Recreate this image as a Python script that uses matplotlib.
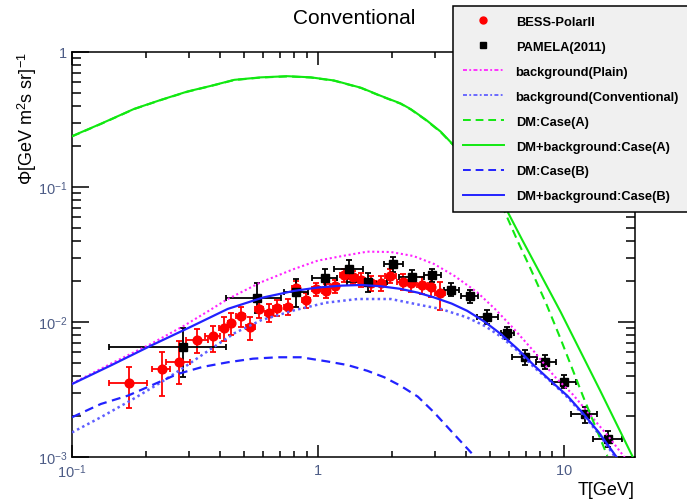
import matplotlib
matplotlib.use("Agg")
import matplotlib.pyplot as plt
from matplotlib.lines import Line2D
from matplotlib.ticker import FixedLocator, FixedFormatter, LogLocator, NullFormatter
import numpy as np

plt.rcParams["font.family"] = ["Liberation Sans", "DejaVu Sans"]
plt.rcParams["mathtext.fontset"] = "custom"
plt.rcParams["mathtext.rm"] = "Liberation Sans"
plt.rcParams["mathtext.it"] = "Liberation Serif:italic"
plt.rcParams["mathtext.bf"] = "Liberation Sans:bold"

# ---------------- BESS-PolarII antiproton flux ----------------
bess_T = [0.171, 0.232, 0.272, 0.322, 0.373, 0.414, 0.442, 0.485, 0.532, 0.577,
          0.632, 0.683, 0.755, 0.814, 0.894, 0.98, 1.08, 1.17, 1.28, 1.39,
          1.50, 1.64, 1.80, 1.97, 2.21, 2.39, 2.66, 2.88, 3.14]
bess_T_lo = [0.141, 0.211, 0.241, 0.291, 0.347, 0.398, 0.430, 0.465, 0.512, 0.556,
             0.608, 0.657, 0.726, 0.785, 0.860, 0.945, 1.04, 1.12, 1.23, 1.33,
             1.44, 1.56, 1.72, 1.88, 2.10, 2.30, 2.53, 2.78, 3.00]
bess_T_hi = [0.202, 0.251, 0.303, 0.356, 0.401, 0.431, 0.456, 0.505, 0.553, 0.600,
             0.657, 0.710, 0.785, 0.845, 0.930, 1.02, 1.12, 1.22, 1.33, 1.45,
             1.56, 1.72, 1.89, 2.07, 2.33, 2.49, 2.80, 2.99, 3.30]
bess_flux = [0.00351, 0.00446, 0.00503, 0.00736, 0.00788, 0.00905, 0.00978, 0.0111, 0.00918, 0.0125,
             0.0117, 0.0128, 0.0129, 0.0180, 0.0146, 0.0176, 0.0170, 0.0185, 0.0222, 0.0215,
             0.0205, 0.0194, 0.0194, 0.0219, 0.0199, 0.0194, 0.0188, 0.0183, 0.0163]
bess_flux_lo = [0.00229, 0.00283, 0.00345, 0.00593, 0.00603, 0.00723, 0.0080, 0.0092, 0.00736, 0.0107,
                0.0100, 0.0111, 0.0112, 0.0160, 0.0128, 0.0157, 0.0150, 0.0165, 0.0199, 0.0192,
                0.0182, 0.0171, 0.0170, 0.0193, 0.0173, 0.0167, 0.0160, 0.0154, 0.0123]
bess_flux_hi = [0.00462, 0.00603, 0.00727, 0.00883, 0.00934, 0.0109, 0.0116, 0.0130, 0.0109, 0.0143,
                0.0135, 0.0146, 0.0147, 0.0200, 0.0165, 0.0196, 0.0190, 0.0206, 0.0246, 0.0240,
                0.0229, 0.0218, 0.0219, 0.0246, 0.0226, 0.0222, 0.0217, 0.0213, 0.0199]

# ---------------- PAMELA (2011) antiproton flux ----------------
pam_T = [0.282, 0.563, 0.814, 1.07, 1.34, 1.60, 2.03, 2.42, 2.90, 3.47,
         4.17, 4.89, 5.87, 6.95, 8.36, 10.0, 12.2, 15.1]
pam_T_lo = [0.141, 0.423, 0.725, 0.95, 1.165, 1.32, 1.86, 2.14, 2.70, 3.26,
            3.81, 4.43, 5.54, 6.18, 7.70, 8.98, 10.7, 13.1]
pam_T_hi = [0.423, 0.707, 0.908, 1.20, 1.52, 1.92, 2.21, 2.70, 3.16, 3.75,
            4.49, 5.41, 6.27, 7.82, 9.28, 11.2, 13.7, 17.3]
pam_flux = [0.00656, 0.0150, 0.0168, 0.0211, 0.0245, 0.0199, 0.0269, 0.0216, 0.0223, 0.0173,
            0.0156, 0.0108, 0.00833, 0.00547, 0.00509, 0.00361, 0.00208, 0.00135]
pam_flux_lo = [0.00394, 0.0116, 0.0130, 0.0163, 0.0211, 0.0168, 0.0236, 0.0194, 0.0199, 0.0156,
               0.0138, 0.0097, 0.00744, 0.00480, 0.00446, 0.00323, 0.00180, 0.00118]
pam_flux_hi = [0.0091, 0.0194, 0.0207, 0.0247, 0.0288, 0.0229, 0.0302, 0.0243, 0.0249, 0.0194,
               0.0174, 0.0123, 0.0092, 0.0062, 0.0057, 0.00405, 0.00236, 0.00157]

# ---------------- model curves ----------------
bg_plain_T = [0.1, 0.15, 0.209, 0.286, 0.36, 0.430, 0.587, 0.80, 1.0, 1.28, 1.59, 1.98,
              2.45, 2.97, 3.6, 4.45, 5.3, 6.28, 7.6, 9.12, 10.9, 12.9, 15.2, 17.8]
bg_plain = [0.0035, 0.0051, 0.00687, 0.0094, 0.0121, 0.0148, 0.0197, 0.0247, 0.0285, 0.0310, 0.0332, 0.0330,
            0.0308, 0.0269, 0.0219, 0.0166, 0.0123, 0.00887, 0.0060, 0.0040, 0.0029, 0.00202, 0.00142, 0.00098]

bg_conv_T = [0.1, 0.131, 0.175, 0.23, 0.29, 0.367, 0.46, 0.587, 0.80, 1.08, 1.45, 1.98, 2.70,
             3.16, 4.05, 4.8, 5.55, 6.5, 7.59, 8.9, 10.35, 12.0, 13.9, 16.3]
bg_conv = [0.00152, 0.00197, 0.00265, 0.00357, 0.0047, 0.00631, 0.0083, 0.0103, 0.0122, 0.0139, 0.0148, 0.0148, 0.0132,
           0.0125, 0.0108, 0.0093, 0.0078, 0.0061, 0.0046, 0.0036, 0.00277, 0.00205, 0.00148, 0.00098]

dmA_T = [0.1, 0.131, 0.179, 0.230, 0.295, 0.367, 0.457, 0.587, 0.753, 0.937, 1.165, 1.50, 1.80,
         2.17, 2.39, 2.75, 3.16, 4.19, 5.76, 6.44, 7.34, 8.5, 9.72, 12.0, 15.05]
dmA = [0.237, 0.293, 0.378, 0.441, 0.508, 0.560, 0.620, 0.647, 0.660, 0.647, 0.613, 0.541, 0.472,
       0.414, 0.375, 0.313, 0.255, 0.150, 0.0653, 0.0412, 0.0247, 0.0136, 0.00748, 0.0028, 0.00102]

totA_T = [0.1, 0.131, 0.179, 0.230, 0.295, 0.367, 0.457, 0.587, 0.753, 0.937, 1.165, 1.50, 1.80,
          2.17, 2.39, 2.75, 3.16, 4.19, 5.92, 6.75, 9.72, 14.1, 19.1]
totA = [0.238, 0.294, 0.379, 0.442, 0.510, 0.561, 0.622, 0.649, 0.662, 0.649, 0.615, 0.543, 0.474,
        0.416, 0.377, 0.315, 0.257, 0.150, 0.0653, 0.0412, 0.01186, 0.00308, 0.00100]

dmB_T = [0.1, 0.131, 0.169, 0.215, 0.269, 0.340, 0.430, 0.545, 0.686, 0.853, 1.095, 1.32, 1.59, 1.86, 2.17,
         2.55, 2.97, 3.55, 4.32]
dmB = [0.00197, 0.00247, 0.00285, 0.00345, 0.00412, 0.00465, 0.00503, 0.00535, 0.00548, 0.00548, 0.0051, 0.0048, 0.00435, 0.0039, 0.00337,
       0.0028, 0.00214, 0.0015, 0.00102]

totB_T = [0.1, 0.145, 0.209, 0.30, 0.430, 0.60, 0.80, 1.0, 1.25, 1.50, 1.80, 2.17, 2.55, 2.97, 3.5, 4.05, 4.75, 5.55,
          6.5, 7.59, 8.8, 10.35, 12.0, 13.9, 16.4]
totB = [0.00347, 0.0048, 0.00667, 0.0091, 0.0125, 0.0152, 0.0170, 0.0180, 0.0186, 0.0188, 0.0184, 0.0176, 0.0165, 0.0152, 0.0137, 0.0121, 0.0101, 0.00815,
        0.0063, 0.00475, 0.0037, 0.00284, 0.0021, 0.00152, 0.00100]

# ---------------- styles ----------------
C_RED = "#ff0000"
C_MAG = "#ff22ff"
C_BGC = "#5f5fff"
C_GRN = "#11e811"
C_BLU = "#2222ff"
LS_DOT = (0, (1.0, 1.3))
LS_DOTDASH = (0, (2.2, 1.3, 1.0, 1.3))
LS_DASH = (0, (4.0, 2.5))

fig = plt.figure(figsize=(6.87, 5.02), dpi=100)
ax = fig.add_axes([72 / 687, 1 - 458 / 502, (635 - 72) / 687, (458 - 53) / 502])
ax.set_xscale("log")
ax.set_yscale("log")
ax.set_xlim(0.1, 19.5)
ax.set_ylim(1e-3, 1)


def asym(center, lo, hi):
    c = np.asarray(center)
    return [c - np.asarray(lo), np.asarray(hi) - c]


ax.errorbar(bess_T, bess_flux, xerr=asym(bess_T, bess_T_lo, bess_T_hi),
            yerr=asym(bess_flux, bess_flux_lo, bess_flux_hi),
            fmt="o", color=C_RED, ms=6.3, elinewidth=1.3, capsize=2.3, capthick=1.3, zorder=3)
ax.errorbar(pam_T, pam_flux, xerr=asym(pam_T, pam_T_lo, pam_T_hi),
            yerr=asym(pam_flux, pam_flux_lo, pam_flux_hi),
            fmt="s", color="black", ms=6.3, elinewidth=1.3, capsize=2.3, capthick=1.3, zorder=3)

ax.plot(bg_plain_T, bg_plain, color=C_MAG, ls=LS_DOT, lw=1.5, zorder=4)
ax.plot(bg_conv_T, bg_conv, color=C_BGC, ls=LS_DOT, lw=1.8, zorder=4)
ax.plot(dmA_T, dmA, color=C_GRN, ls=LS_DASH, lw=1.5, zorder=4)
ax.plot(totA_T, totA, color=C_GRN, ls="-", lw=1.5, zorder=4)
ax.plot(dmB_T, dmB, color=C_BLU, ls=LS_DASH, lw=1.6, zorder=4)
ax.plot(totB_T, totB, color=C_BLU, ls="-", lw=1.6, zorder=4)

# axes frame and ticks
for sp in ax.spines.values():
    sp.set_linewidth(1.1)
tick_color = "#4d5c86"
ax.xaxis.set_major_locator(FixedLocator([0.1, 1, 10]))
ax.xaxis.set_major_formatter(FixedFormatter([r"$\mathit{10^{-1}}$", r"$\mathit{1}$", r"$\mathit{10}$"]))
ax.yaxis.set_major_locator(FixedLocator([1e-3, 1e-2, 1e-1, 1]))
ax.yaxis.set_major_formatter(FixedFormatter([r"$\mathit{10^{-3}}$", r"$\mathit{10^{-2}}$",
                                             r"$\mathit{10^{-1}}$", r"$\mathit{1}$"]))
ax.xaxis.set_minor_locator(LogLocator(base=10, subs=np.arange(2, 10)))
ax.yaxis.set_minor_locator(LogLocator(base=10, subs=np.arange(2, 10)))
ax.xaxis.set_minor_formatter(NullFormatter())
ax.yaxis.set_minor_formatter(NullFormatter())
ax.tick_params(which="both", direction="in", top=True, right=True, width=1.1,
               labelcolor=tick_color, labelsize=10.5)
ax.tick_params(axis="x", which="major", length=9, pad=4)
ax.tick_params(axis="x", which="minor", length=4.5)
ax.tick_params(axis="y", which="major", length=12, pad=3)
ax.tick_params(axis="y", which="minor", length=6.5)

# titles
fig.text(354 / 687, 1 - 18 / 502, "Conventional", ha="center", va="center", fontsize=15)
fig.text(27 / 687, 1 - 119 / 502, r"Φ[GeV m$^{2}$s sr]$^{-1}$", rotation=90,
         ha="center", va="center", fontsize=13)
fig.text(635 / 687, 1 - 491 / 502, "T[GeV]", ha="right", va="center", fontsize=13)

# legend
handles = [
    Line2D([], [], marker="o", color=C_RED, ls="none", ms=5),
    Line2D([], [], marker="s", color="black", ls="none", ms=5),
    Line2D([], [], color=C_MAG, ls=LS_DOTDASH, lw=1.3),
    Line2D([], [], color=C_BGC, ls=LS_DOTDASH, lw=1.3),
    Line2D([], [], color=C_GRN, ls=LS_DASH, lw=1.4),
    Line2D([], [], color=C_GRN, ls="-", lw=1.4),
    Line2D([], [], color=C_BLU, ls=LS_DASH, lw=1.4),
    Line2D([], [], color=C_BLU, ls="-", lw=1.4),
]
labels = ["BESS-PolarII", "PAMELA(2011)", "background(Plain)", "background(Conventional)",
          "DM:Case(A)", "DM+background:Case(A)", "DM:Case(B)", "DM+background:Case(B)"]
leg = fig.legend(handles, labels, loc="upper left", bbox_to_anchor=(453 / 687, 1 - 7 / 502),
                 bbox_transform=fig.transFigure, frameon=True, fancybox=False,
                 edgecolor="black", facecolor="#f0f0f0", framealpha=1,
                 prop={"weight": "bold", "size": 9.3}, handlelength=3.2, handletextpad=0.9,
                 labelspacing=1.0, borderpad=0.75, borderaxespad=0)
leg.get_frame().set_linewidth(1.1)

fig.savefig("out.png", dpi=100, facecolor="white")
